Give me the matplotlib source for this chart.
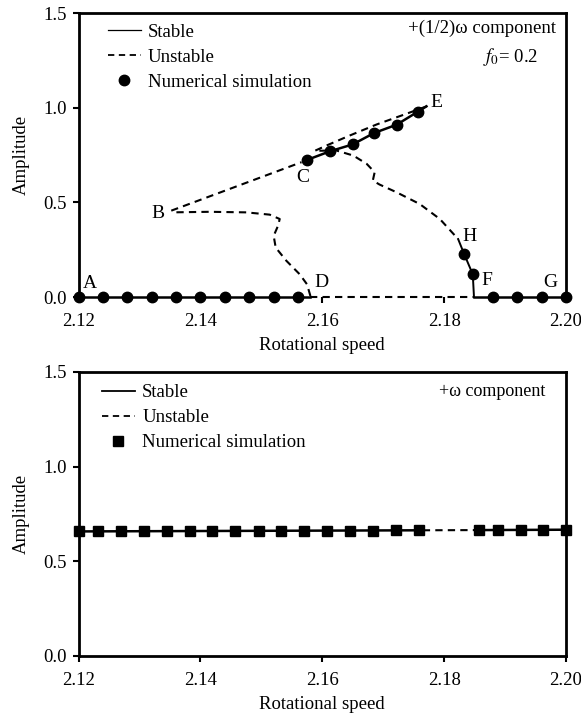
import matplotlib
matplotlib.use("Agg")
import matplotlib.pyplot as plt
from matplotlib.lines import Line2D

plt.rcParams['font.family'] = ['Liberation Serif', 'DejaVu Serif']
plt.rcParams['mathtext.fontset'] = 'stix'

# ---------------- Top panel data: +(1/2)w component ----------------
# stable lower branch A-D
stable_AD_x = [2.12, 2.1580]
stable_AD_y = [0.0, 0.0]
# unstable trivial branch D-F
unstable_DF_x = [2.1580, 2.1849]
unstable_DF_y = [0.0, 0.0]
# stable trivial branch F-G
stable_FG_x = [2.1849, 2.20]
stable_FG_y = [0.0, 0.0]
# unstable branch D -> B (S-shaped)
unstable_DB_x = [2.15806, 2.15750, 2.15630, 2.15412, 2.15236, 2.15203, 2.15274,
                 2.15302, 2.15137, 2.14754, 2.14152, 2.13522]
unstable_DB_y = [0.005, 0.067, 0.120, 0.191, 0.261, 0.323, 0.376,
                 0.412, 0.435, 0.447, 0.450, 0.447]
# unstable branch B -> C
unstable_BC_x = [2.13522, 2.1566]
unstable_BC_y = [0.456, 0.712]
# stable branch C -> E
stable_CE_x = [2.1575, 2.1613, 2.1650, 2.1685, 2.1722, 2.1757, 2.1771]
stable_CE_y = [0.724, 0.770, 0.806, 0.866, 0.910, 0.979, 1.007]
# unstable branch E -> turning point -> H
unstable_EH_x = [2.17712, 2.17383, 2.16890, 2.16452, 2.16069, 2.15877,
                 2.1623, 2.1651, 2.1673, 2.1686, 2.1683, 2.1694, 2.1722,
                 2.1760, 2.1793, 2.1823]
unstable_EH_y = [1.007, 0.968, 0.911, 0.853, 0.800, 0.772,
                 0.774, 0.747, 0.703, 0.659, 0.615, 0.594, 0.553,
                 0.491, 0.412, 0.306]
# stable branch H -> F
stable_HF_x = [2.1823, 2.1833, 2.1847, 2.1849]
stable_HF_y = [0.306, 0.226, 0.120, 0.0]
# numerical simulation (circles)
sim1_x = [2.120, 2.124, 2.128, 2.132, 2.136, 2.140, 2.144, 2.148, 2.152, 2.156,
          2.1575, 2.1613, 2.1650, 2.1685, 2.1722, 2.1757,
          2.1833, 2.1847,
          2.188, 2.192, 2.196, 2.200]
sim1_y = [0.0] * 10 + [0.724, 0.770, 0.806, 0.866, 0.910, 0.979,
                       0.226, 0.120] + [0.0] * 4
point_labels = ['A', 'B', 'C', 'D', 'E', 'H', 'F', 'G']
point_label_x = [2.1218, 2.1330, 2.1568, 2.1599, 2.1788, 2.1842, 2.1870, 2.1975]
point_label_y = [0.07, 0.44, 0.63, 0.076, 1.025, 0.318, 0.085, 0.076]

# ---------------- Bottom panel data: +w component ----------------
stable2a_x = [2.12, 2.1765]
stable2a_y = [0.658, 0.664]
unstable2_x = [2.1765, 2.1852]
unstable2_y = [0.664, 0.665]
stable2b_x = [2.1852, 2.20]
stable2b_y = [0.665, 0.667]
sim2_x = [2.1200, 2.1232, 2.1270, 2.1308, 2.1346, 2.1383, 2.1419, 2.1457,
          2.1496, 2.1532, 2.1570, 2.1607, 2.1645, 2.1683, 2.1721, 2.1758,
          2.1858, 2.1889, 2.1926, 2.1962, 2.2000]
sim2_y = [0.658, 0.658, 0.659, 0.659, 0.659, 0.660, 0.660, 0.660,
          0.661, 0.661, 0.661, 0.662, 0.662, 0.662, 0.663, 0.663,
          0.665, 0.666, 0.666, 0.666, 0.667]

xticks = [2.12, 2.14, 2.16, 2.18, 2.20]
xtick_labels = ['2.12', '2.14', '2.16', '2.18', '2.20']
yticks = [0.0, 0.5, 1.0, 1.5]
ytick_labels = ['0.0', '0.5', '1.0', '1.5']

FS = 13.5
LW = 1.8

fig = plt.figure(figsize=(5.81, 7.16), dpi=100)
ax1 = fig.add_axes([78.5/581, 1-297/716, 487.5/581, 284/716])
ax2 = fig.add_axes([78.5/581, 1-656/716, 487.5/581, 284/716])


def style(ax):
    ax.set_xlim(2.12, 2.20)
    ax.set_ylim(0.0, 1.5)
    ax.set_xticks(xticks)
    ax.set_xticklabels(xtick_labels)
    ax.set_yticks(yticks)
    ax.set_yticklabels(ytick_labels)
    ax.tick_params(direction='out', length=4, width=1.5, labelsize=FS)
    ax.tick_params(axis='x', pad=7.5)
    ax.tick_params(axis='y', pad=4.3)
    for s in ax.spines.values():
        s.set_linewidth(2.0)
    ax.set_xlabel('Rotational speed', fontsize=FS, labelpad=5)
    ax.set_ylabel('Amplitude', fontsize=FS, labelpad=10)


style(ax1)
style(ax2)
ax1.spines['bottom'].set_visible(False)

k = dict(color='black', lw=LW, clip_on=False)
kd = dict(color='black', lw=1.5, ls=(0, (3.5, 2.5)), clip_on=False)

ax1.plot(stable_AD_x, stable_AD_y, **k, zorder=3)
ax1.plot(unstable_DF_x, unstable_DF_y, **kd, zorder=3)
ax1.plot(stable_FG_x, stable_FG_y, **k, zorder=3)
ax1.plot(unstable_DB_x, unstable_DB_y, **kd)
ax1.plot(unstable_BC_x, unstable_BC_y, **kd)
ax1.plot(stable_CE_x, stable_CE_y, **k)
ax1.plot(unstable_EH_x, unstable_EH_y, **kd)
ax1.plot(stable_HF_x, stable_HF_y, color='black', lw=1.4)
ax1.plot(sim1_x, sim1_y, 'o', color='black', ms=7.5, clip_on=False, zorder=4)
for t, x, y in zip(point_labels, point_label_x, point_label_y):
    ax1.text(x, y, t, fontsize=FS + 0.5, ha='center', va='center')
ax1.text(0.98, 0.947, '+(1/2)\u03c9 component', transform=ax1.transAxes,
         fontsize=FS, ha='right', va='center')
ax1.text(0.942, 0.845, '$f_0$= 0.2', transform=ax1.transAxes,
         fontsize=FS, ha='right', va='center')

leg_kw = dict(loc='upper left', frameon=False, fontsize=FS, handlelength=1.75,
              handletextpad=0.4, labelspacing=0.42, borderaxespad=0.0,
              borderpad=0.0)
h1 = [Line2D([], [], color='black', lw=0.9),
      Line2D([], [], color='black', lw=1.3, ls=(0, (3.5, 2.5))),
      Line2D([], [], color='black', ls='none', marker='o', ms=7.5)]
ax1.legend(h1, ['Stable', 'Unstable', 'Numerical simulation'],
           bbox_to_anchor=(0.06, 0.962), **leg_kw)

ax2.plot(stable2a_x, stable2a_y, **k)
ax2.plot(unstable2_x, unstable2_y, **kd)
ax2.plot(stable2b_x, stable2b_y, **k)
ax2.plot(sim2_x, sim2_y, 's', color='black', ms=7.5, clip_on=False, zorder=4)
ax2.text(0.958, 0.933, '+\u03c9 component', transform=ax2.transAxes,
         fontsize=FS - 0.5, ha='right', va='center')
h2 = [Line2D([], [], color='black', lw=1.3),
      Line2D([], [], color='black', lw=1.3, ls=(0, (3.5, 2.5))),
      Line2D([], [], color='black', ls='none', marker='s', ms=7.5)]
ax2.legend(h2, ['Stable', 'Unstable', 'Numerical simulation'],
           bbox_to_anchor=(0.048, 0.957), **leg_kw)

fig.savefig('out.png', dpi=100)
